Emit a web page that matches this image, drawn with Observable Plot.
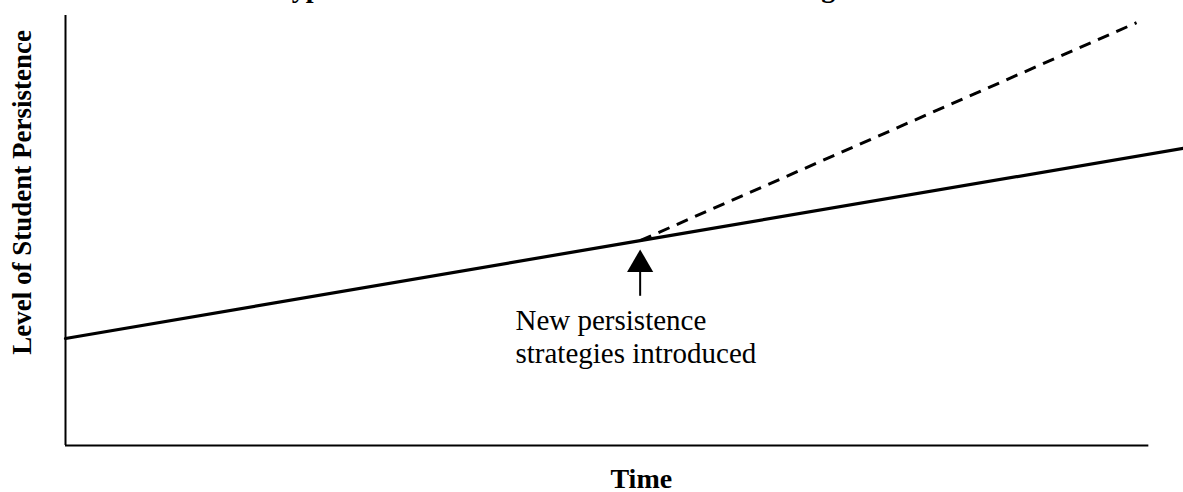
<!DOCTYPE html>
<html>
<head>
<meta charset="utf-8">
<script src="https://cdn.jsdelivr.net/npm/d3@7"></script>
<script src="https://cdn.jsdelivr.net/npm/@observablehq/plot@0.6"></script>
<style>
  html, body { margin: 0; padding: 0; background: #fff; overflow: hidden; }
  #wrap { position: relative; width: 1183px; height: 492px; }
  #title {
    position: absolute; left: 270px; top: -26.5px;
    font: bold 28px "Liberation Serif", "Times New Roman", serif;
    line-height: 28px; white-space: nowrap; color: #000;
  }
  #chart { position: absolute; left: 0; top: 0; }
  #chart svg text { font-family: "Liberation Serif", "Times New Roman", serif; }
</style>
</head>
<body>
<div id="wrap">
  <div id="chart"></div>
  <div id="title">Hypothesized Effect of New Persistence Strategies</div>
</div>
<script>
// Time (arbitrary units) and level of student persistence (arbitrary units)
const baselineTime = [0, 51.4, 100];
const baselinePersistence = [24.6, 47.1, 68.3];
const strategyTime = [51.4, 95.8];
const strategyPersistence = [47.1, 97.2];
const interventionTime = 51.4;
const arrowShaft = [34.3, 41.0];
const arrowHead = 41.6;
const annotationText = "New persistence\nstrategies introduced";
const annotationTime = 40.25;
const annotationLevel = 31.9;
const xAxisEnd = 96.9;
const yLabel = "Level of Student Persistence";
const xLabel = "Time";

const baseline = baselineTime.map((t, i) => ({t, v: baselinePersistence[i]}));
const strategy = strategyTime.map((t, i) => ({t, v: strategyPersistence[i]}));

const serif = "\"Liberation Serif\", \"Times New Roman\", serif";

const chart = Plot.plot({
  width: 1183,
  height: 492,
  marginLeft: 65,
  marginRight: 0,
  marginTop: 10,
  marginBottom: 47,
  style: {background: "#fff", fontFamily: serif, color: "#000"},
  x: {domain: [0, 100], axis: null},
  y: {domain: [0, 100], axis: null},
  marks: [
    // axes
    Plot.ruleX([0], {y1: 0, y2: 100, stroke: "#000", strokeWidth: 2, insetBottom: -5}),
    Plot.ruleY([0], {x1: 0, x2: xAxisEnd, stroke: "#000", strokeWidth: 1.8}),
    // lines
    Plot.line(strategy, {x: "t", y: "v", stroke: "#000", strokeWidth: 3, strokeDasharray: "12,8", strokeLinecap: "butt"}),
    Plot.line(baseline, {x: "t", y: "v", stroke: "#000", strokeWidth: 3.2}),
    // arrow
    Plot.ruleX([interventionTime], {y1: arrowShaft[0], y2: arrowShaft[1], stroke: "#000", strokeWidth: 2}),
    Plot.dot([interventionTime], {x: d => d, y: () => arrowHead, symbol: "triangle2", r: 12.5, fill: "#000", stroke: "none"}),
    // annotation
    Plot.text([annotationText], {
      x: () => annotationTime, y: () => annotationLevel, text: d => d,
      textAnchor: "start", lineAnchor: "top", lineHeight: 1.14,
      fontSize: 29, fill: "#000"
    }),
    // axis labels
    Plot.text([yLabel], {
      y: () => 58.2, frameAnchor: "left", dx: -43, rotate: -90, text: d => d,
      textAnchor: "middle", lineAnchor: "middle",
      fontSize: 27, fontWeight: "bold", fill: "#000"
    }),
    Plot.text([xLabel], {
      x: () => 51.5, frameAnchor: "bottom", dy: 23, text: d => d,
      textAnchor: "middle", lineAnchor: "top",
      fontSize: 28, fontWeight: "bold", fill: "#000"
    })
  ]
});
document.getElementById("chart").appendChild(chart);
</script>
</body>
</html>
